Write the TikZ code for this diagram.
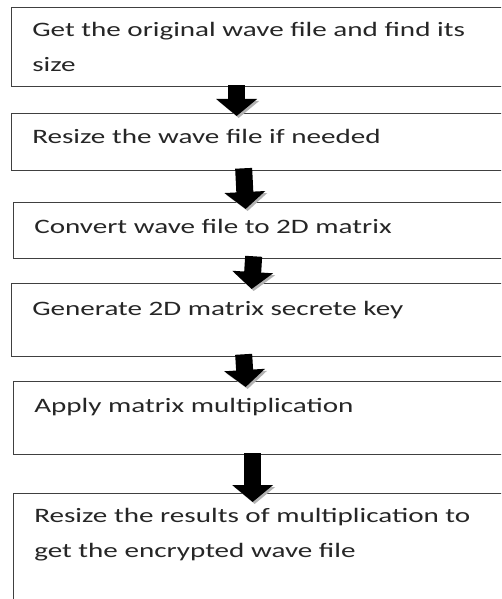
\documentclass[tikz,border=0pt]{standalone}
\usepackage{fontspec}
\setmainfont{Carlito}
\usetikzlibrary{arrows.meta}

\tikzset{
  stepbox/.style={draw=black!75,line width=1.3pt,anchor=north west,
    minimum width=520pt,inner sep=0pt},
  steptext/.style={anchor=base west,align=left,inner sep=0pt,text=black!85,
    font=\fontsize{20.5}{35}\selectfont,xscale=1.42,transform shape},
  flow/.style={line width=17pt,
    -{Triangle[width=40pt,length=17pt]},
    preaction={draw=black!30,transform canvas={shift={(2pt,-2pt)}}}}
}

\begin{document}
\begin{tikzpicture}[x=1pt,y=-1pt]
  \clip (0,0) rectangle (501,599);
  \fill[white] (0,0) rectangle (501,599);

  % the six steps
  \node[stepbox,minimum height=79pt] (getbox) at (11,7) {};
  \node[stepbox,minimum height=57pt] (resizebox) at (11,113) {};
  \node[stepbox,minimum height=56pt] (convbox) at (13,202) {};
  \node[stepbox,minimum height=73pt] (keybox) at (11,283) {};
  \node[stepbox,minimum height=73pt] (multbox) at (13,381) {};
  \node[stepbox,minimum height=130pt] (outbox) at (13,493) {};

  % base of a two-line text is its last line
  \node[steptext] (gettext) at (32,72) {Get the original wave file and find its\\size};
  \node[steptext] (resizetext) at (32,143) {Resize the wave file if needed};
  \node[steptext] (convtext) at (34,233) {Convert wave file to 2D matrix};
  \node[steptext] (keytext) at (32,315) {Generate 2D matrix secrete key};
  \node[steptext] (multtext) at (34,412) {Apply matrix multiplication};
  \node[steptext] (outtext) at (34,557) {Resize the results of multiplication to\\get the encrypted wave file};

  % block arrows between steps
  \draw[flow] ([xshift=-35pt,yshift=2pt]getbox.south) -- ([xshift=-35pt,yshift=-3pt]resizebox.north);
  \draw[flow] ([xshift=-28pt,yshift=3pt]resizebox.south) -- ([xshift=-28pt,yshift=-7pt]convbox.north);
  \draw[flow] ([xshift=-20pt,yshift=3pt]convbox.south) -- ([xshift=-20pt,yshift=-6pt]keybox.north);
  \draw[flow] ([xshift=-28pt,yshift=3pt]keybox.south) -- ([xshift=-28pt,yshift=-6pt]multbox.north);
  \draw[flow] ([xshift=-21pt,yshift=2pt]multbox.south) -- ([xshift=-21pt,yshift=-9pt]outbox.north);
\end{tikzpicture}
\end{document}
